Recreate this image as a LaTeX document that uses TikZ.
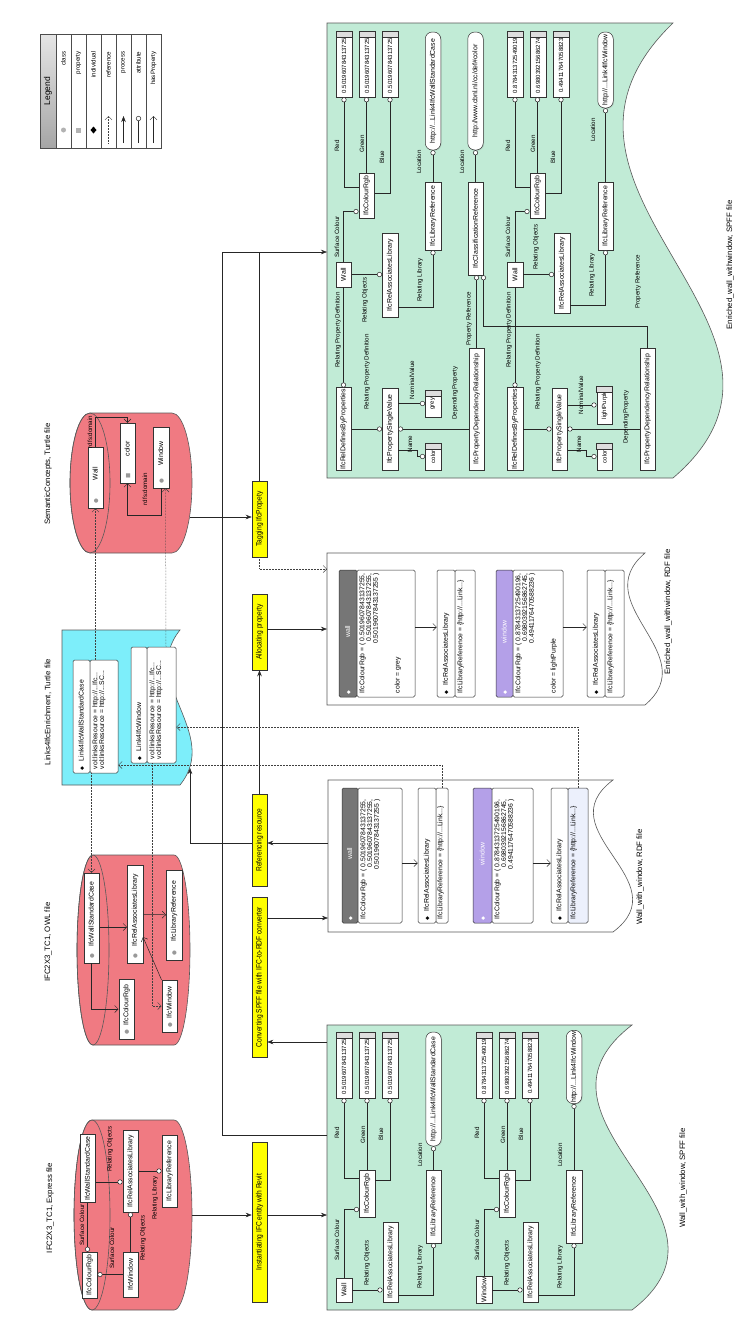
\documentclass[tikz,border=0pt]{standalone}
\usepackage{fontspec}
\setmainfont{Liberation Sans}
\newfontfamily\nfont[FakeStretch=0.85]{Liberation Sans}
\newfontfamily\symfont{DejaVu Sans}
\usetikzlibrary{arrows.meta,shadows,calc}

\definecolor{spffgreen}{RGB}{193,235,214}
\definecolor{cylred}{RGB}{240,122,130}
\definecolor{linkcyan}{RGB}{125,238,250}
\definecolor{hdrgrey}{RGB}{118,118,118}
\definecolor{hdrpurple}{RGB}{180,160,232}
\definecolor{valband}{RGB}{222,222,222}
\definecolor{selblue}{RGB}{236,240,252}
\definecolor{procyellow}{RGB}{255,255,0}

\newcommand{\dmd}{{\symfont\fontsize{5}{5}\selectfont ◆}}
\newcommand{\cls}{{\symfont\fontsize{5.5}{5}\selectfont\textcolor{gray!80}{●}}}
\newcommand{\prp}{{\symfont\fontsize{5.5}{5}\selectfont\textcolor{gray!80}{■}}}

\tikzset{
  lbl/.style={rotate=90, inner sep=0.3pt, font=\fontsize{6.2}{7}\selectfont},
  ttl/.style={rotate=90, inner sep=0pt, font=\fontsize{7.8}{8}\selectfont},
  ent/.style={rotate=90, draw=black!80, fill=white, inner sep=1pt, minimum height=15.5pt,
    drop shadow={opacity=0.25, shadow xshift=0.8pt, shadow yshift=-0.8pt}},
  urlbox/.style={ent, rounded corners=7pt},
  valbox/.style={ent, font=\fontsize{6}{7}\selectfont},
  proc/.style={rotate=90, draw=black!80, fill=procyellow, minimum height=15pt, inner sep=1pt,
    font=\nfont\fontsize{7.8}{8}\selectfont},
  hdr/.style={rotate=90, draw=black!80, inner sep=2pt, align=left, rounded corners=1.5pt},
  bdy/.style={rotate=90, draw=black!80, fill=white, inner sep=0pt, rounded corners=1.5pt},
  btxt/.style={rotate=90, anchor=north west, inner xsep=4pt, inner ysep=2.5pt,
    font=\fontsize{6.8}{6.3}\selectfont},
  flow/.style={draw=black!85, -{Stealth[length=6pt,width=4.5pt]}},
  refl/.style={draw=black!75, densely dotted, -{Straight Barb[length=3.5pt,width=7pt]}},
  hasp/.style={draw=black!85, -{Straight Barb[length=3.5pt,width=7pt]}},
  attr/.style={draw=black!85, -{Circle[fill=white,length=5pt]}},
  docl/.style={draw=black!65, line width=0.6pt},
}

\begin{document}
\begin{tikzpicture}[x=1pt, y=-1pt, font=\fontsize{6.9}{7.5}\selectfont, line width=0.5pt]
\useasboundingbox (0,0) rectangle (755,1326);

% legend
\draw[black!70, fill=white] (40,34) rectangle (161,148);
\shade[top color=gray!20, bottom color=gray!70, draw=black!70] (40,34) rectangle (56,148);
\node[ttl, font=\fontsize{8.5}{9}\selectfont] (lgd) at (48,91) {Legend};
\foreach \k in {0,...,5}
  \draw[black!70] ({71+15*\k},34) -- ({71+15*\k},148);
\foreach \k/\t in {0/class,1/property,2/individual,3/reference,4/process,5/attribute,6/hasProperty}
  \node[lbl, anchor=east] (lg\k) at ({63.5+15*\k},51) {\t};
\fill[gray!60] (63.5,130) circle[radius=2.5pt];
\fill[gray!60] (76,127.5) rectangle (81,132.5);
\fill[black] (93.5,126.5) -- (96.5,130) -- (93.5,133.5) -- (90.5,130) -- cycle;
\draw[refl] (108.5,143) -- (108.5,116);
\draw[flow] (123.5,143) -- (123.5,116);
\draw[attr] (138.5,143) -- (138.5,116);
\draw[hasp] (153.5,143) -- (153.5,116);

% file shapes
\draw[docl, fill=spffgreen] (327,23) -- (673,23) .. controls (500,190) and (846,330) .. (673,478) -- (327,478) -- cycle;
\draw[docl, fill=spffgreen] (327,1025) -- (632,1025) .. controls (507,1121) and (757,1214) .. (632,1310) -- (327,1310) -- cycle;
\draw[docl, fill=white] (327,553) -- (645,553) .. controls (585,604) and (705,654) .. (645,705) -- (327,705) -- cycle;
\draw[docl, fill=white] (328,780) -- (613,780) .. controls (545,831) and (681,881) .. (613,932) -- (328,932) -- cycle;
\draw[docl, fill=linkcyan] (62,630) -- (180,630) .. controls (138,682) and (222,733) .. (180,785) -- (62,785) -- cycle;

% cylinders
\draw[docl, fill=cylred] (90,413) -- (172,413) arc[start angle=-90, end angle=90, x radius=20, y radius=70]
  -- (90,553) arc[start angle=90, end angle=270, x radius=20, y radius=70] -- cycle;
\draw[docl] (90,483) ellipse[x radius=20, y radius=70];
\draw[docl, fill=cylred] (93,855) -- (174,855) arc[start angle=-90, end angle=90, x radius=16, y radius=95]
  -- (93,1045) arc[start angle=90, end angle=270, x radius=16, y radius=95] -- cycle;
\draw[docl] (93,950) ellipse[x radius=16, y radius=95];
\draw[docl, fill=cylred] (92,1120) -- (174,1120) arc[start angle=-90, end angle=90, x radius=18, y radius=95]
  -- (92,1310) arc[start angle=90, end angle=270, x radius=18, y radius=95] -- cycle;
\draw[docl] (92,1215) ellipse[x radius=18, y radius=95];

% titles
\node[ttl] (tx) at (50,1208) {IFC2X3\_TC1, Express file};
\node[ttl] (to) at (48,942) {IFC2X3\_TC1, OWL file};
\node[ttl] (tl) at (48,712) {Links4IfcEnrichment, Turtle file};
\node[ttl] (ts) at (48,474) {SemanticConcepts, Turtle file};
\node[ttl] (tspff) at (683,1178) {Wall\_with\_window, SPFF file};
\node[ttl] (trdf) at (640,877) {Wall\_with\_window, RDF file};
\node[ttl] (terdf) at (668,612) {Enriched\_wall\_withwindow, RDF file};
\node[ttl] (tespff) at (730,265) {Enriched\_wall\_withwindow, SPFF file};

% process steps
\node[proc, minimum width=76pt] (tag) at (259.5,519) {Tagging IfcPropety};
\node[proc, minimum width=76pt] (alloc) at (259.5,632) {Allocating property};
\node[proc, minimum width=92pt] (refr) at (259.5,840) {Referencing resource};
\node[proc, minimum width=160pt] (conv) at (259.5,977) {Converting SPFF file with IFC-to-RDF converter};
\node[proc, minimum width=160pt] (inst) at (259.5,1222) {Instantiating IFC entity with Revit};

% semantic concepts
\node[ent, minimum width=61pt, text width=57pt] (sWall) at (95.5,477.5) {\hspace{3pt}\cls\hfill Wall\hfill\null};
\node[ent, minimum width=60pt, text width=56pt] (sColor) at (127.5,453) {\hspace{3pt}\prp\hfill color\hfill\null};
\node[ent, minimum width=61pt, text width=57pt] (sWin) at (161,457.5) {\hspace{3pt}\cls\hfill Window\hfill\null};
\draw[hasp] (sWin.west) -- ++(0,27) -| (sColor.west);
\draw[hasp] (sWall.east) -- ++(0,-30) -| (sColor.east);
\node[lbl] (sdom1) at (145,489) {rdfs:domain};
\node[lbl] (sdom2) at (90,432) {rdfs:domain};

% owl file
\node[ent, minimum width=90pt, text width=86pt] (oWSC) at (91.5,918) {\hspace{3pt}\cls\hfill IfcWallStandardCase\hfill\null};
\node[ent, minimum width=98pt, text width=94pt] (oRAL) at (135,914) {\hspace{3pt}\cls\hfill IfcRelAssociatesLibrary\hfill\null};
\node[ent, minimum width=90pt, text width=86pt] (oLRef) at (174,915) {\hspace{3pt}\cls\hfill IfcLibraryReference\hfill\null};
\node[ent, minimum width=60pt, text width=56pt] (oRgb) at (126.5,1009) {\hspace{3pt}\cls\hfill IfcColourRgb\hfill\null};
\node[ent, minimum width=52pt, text width=48pt] (oWin) at (169.5,1006) {\hspace{3pt}\cls\hfill IfcWindow\hfill\null};
\draw[hasp] ($(oWSC.south)+(0,9)$) -- ($(oRAL.north)+(0,13)$);
\draw[hasp] (oRAL) -- (oLRef);
\draw[hasp] (oWin.north east) -- ($(oRAL.south)+(0,23)$);
\draw[hasp] (oWSC) |- (oRgb);

% express file
\node[ent, minimum width=46pt] (xRgb) at (89.5,1275) {IfcColourRgb};
\node[ent, minimum width=68pt] (xWSC) at (87.5,1168.5) {IfcWallStandardCase};
\node[ent, minimum width=82pt] (xRAL) at (130.5,1171) {IfcRelAssociatesLibrary};
\node[ent, minimum width=45pt] (xWin) at (130.5,1274.5) {IfcWindow};
\node[ent, minimum width=72pt] (xLRef) at (169.5,1171) {IfcLibraryReference};
\draw[attr] (xWSC) -- (xWSC |- xRgb.east);
\draw[attr] (xWin) -- (xWin -| xRgb.south);
\draw[attr] ($(xWSC.south)+(0,13.5)$) -- ($(xRAL.north)+(0,11)$);
\draw[attr] (xWin) -- (xWin |- xRAL.west);
\draw[attr] (xRAL) -- (xRAL -| xLRef.north);
\node[lbl] (xl1) at (82,1225) {Surface Colour};
\node[lbl] (xl2) at (112,1248) {Surface Colour};
\node[lbl] (xl3) at (110,1149) {Relating Objects};
\node[lbl] (xl4) at (143,1238) {Relating Objects};
\node[lbl] (xl5) at (155,1198) {Relating Library};

% links4ifc enrichment
\node[hdr, fill=white, minimum width=113pt, minimum height=17pt, text width=107pt] (lwh) at (81.5,716.5) {\dmd\hspace{5pt}Link4IfcWallStandardCase};
\node[bdy, minimum width=113pt, minimum height=28pt] (lwb) at (104,716.5) {};
\node[btxt] (lwt) at (lwb.north west) {\begin{tabular}{@{}l@{}}vol:linksResource = http://...Ifc...\\vol:linksResource = http://...SC...\end{tabular}};
\node[hdr, fill=white, minimum width=116pt, minimum height=16pt, text width=110pt] (lwinh) at (139,705) {\dmd\hspace{5pt}Link4IfcWindow};
\node[bdy, minimum width=116pt, minimum height=29pt] (lwinb) at (161.5,705) {};
\node[btxt] (lwint) at (lwinb.north west) {\begin{tabular}{@{}l@{}}vol:linksResource = http://...Ifc...\\vol:linksResource = http://...SC...\end{tabular}};

% enriched rdf
\node[hdr, fill=hdrgrey, text=white, minimum width=127pt, minimum height=18pt, text width=121pt] (ewh) at (348,633.5) {\dmd\hfill wall\hfill\null};
\node[bdy, minimum width=127pt, minimum height=58pt] (ewb) at (386,633.5) {};
\node[btxt] (ewt) at (ewb.north west) {\begin{tabular}{@{}l@{}}IfcColourRgb = ( 0.5019607843137255,\\ \hfill 0.5019607843137255,\\ \hfill 0.5019607843137255 )\\[15pt] color = grey\end{tabular}};
\node[hdr, fill=white, minimum width=127pt, minimum height=18pt, text width=121pt] (er1h) at (446,633.5) {\dmd\hspace{5pt}IfcRelAssociatesLibrary};
\node[bdy, minimum width=127pt, minimum height=20pt] (er1b) at (465,633.5) {};
\node[btxt] (er1t) at (er1b.north west) {IfcLibraryReference = \{http://...Link...\}};
\node[hdr, fill=hdrpurple, text=white, minimum width=127pt, minimum height=17pt, text width=121pt] (ewinh) at (504.5,633.5) {\dmd\hfill window\hfill\null};
\node[bdy, minimum width=127pt, minimum height=50pt] (ewinb) at (538,633.5) {};
\node[btxt] (ewint) at (ewinb.north west) {\begin{tabular}{@{}l@{}}IfcColourRgb = ( 0.8784313725490196,\\ \hfill 0.6980392156862745,\\ \hfill 0.4941176470588236 )\\[15pt] color = lightPurple\end{tabular}};
\node[hdr, fill=white, minimum width=127pt, minimum height=18pt, text width=121pt] (er2h) at (596,633.5) {\dmd\hspace{5pt}IfcRelAssociatesLibrary};
\node[bdy, minimum width=127pt, minimum height=19pt] (er2b) at (614.5,633.5) {};
\node[btxt] (er2t) at (er2b.north west) {IfcLibraryReference = \{http://...Link...\}};
\draw[hasp] ($(ewb.south)+(0,-6.5)$) -- ($(er1h.north)+(0,-6.5)$);
\draw[hasp] ($(ewinb.south)+(0,-6.5)$) -- ($(er2h.north)+(0,-6.5)$);

% rdf
\node[hdr, fill=hdrgrey, text=white, minimum width=135pt, minimum height=16pt, text width=129pt] (rwh) at (350,855.5) {\dmd\hfill wall\hfill\null};
\node[bdy, minimum width=135pt, minimum height=44pt] (rwb) at (380,855.5) {};
\node[btxt] (rwt) at (rwb.north west) {\begin{tabular}{@{}l@{}}IfcColourRgb = ( 0.5019607843137255,\\ \hfill 0.5019607843137255,\\ \hfill 0.5019607843137255 )\end{tabular}};
\node[hdr, fill=white, minimum width=135pt, minimum height=18pt, text width=129pt] (rr1h) at (427,855.5) {\dmd\hspace{5pt}IfcRelAssociatesLibrary};
\node[bdy, minimum width=135pt, minimum height=12pt] (rr1b) at (442,855.5) {};
\node[btxt, inner ysep=1.5pt] (rr1t) at (rr1b.north west) {IfcLibraryReference = \{http://...Link...\}};
\node[hdr, fill=hdrpurple, text=white, minimum width=135pt, minimum height=19pt, text width=129pt] (rwinh) at (482.5,855.5) {\dmd\hfill window\hfill\null};
\node[bdy, minimum width=135pt, minimum height=41pt] (rwinb) at (512.5,855.5) {};
\node[btxt] (rwint) at (rwinb.north west) {\begin{tabular}{@{}l@{}}IfcColourRgb = ( 0.8784313725490196,\\ \hfill 0.6980392156862745,\\ \hfill 0.4941176470588236 )\end{tabular}};
\node[hdr, fill=white, minimum width=135pt, minimum height=17pt, text width=129pt] (rr2h) at (559.5,855.5) {\dmd\hspace{5pt}IfcRelAssociatesLibrary};
\node[bdy, fill=selblue, minimum width=135pt, minimum height=20pt] (rr2b) at (578,855.5) {};
\node[btxt] (rr2t) at (rr2b.north west) {IfcLibraryReference = \{http://...Link...\}};
\draw[hasp] ($(rwb.south)+(0,7.5)$) -- ($(rr1h.north)+(0,7.5)$);
\draw[hasp] ($(rwinb.south)+(0,7.5)$) -- ($(rr2h.north)+(0,7.5)$);

% wall_with_window spff
\foreach \n/\cx/\v in {s1v1/344/0.5019607843137255,s1v2/367/0.5019607843137255,s1v3/390/0.5019607843137255,s2v1/484/0.8784313725490196,s2v2/507/0.6980392156862745,s2v3/530/0.4941176470588236}
  \node[valbox, minimum width=66pt] (\n) at (\cx,1065) {\v\hspace{4pt}};
\node[urlbox, minimum width=114pt] (s1url) at (433.5,1089) {http://...Link4IfcWallStandardCase};
\node[urlbox, minimum width=70pt] (s2url) at (574,1067) {http://...Link4IfcWindow};
\node[ent, minimum width=47pt] (s1rgb) at (367,1193.5) {IfcColourRgb};
\node[ent, minimum width=80pt] (s1ral) at (390.5,1262) {IfcRelAssociatesLibrary};
\node[ent, minimum width=73pt] (s1lref) at (433.5,1206.5) {IfcLibraryReference};
\node[ent, minimum width=24pt] (s1wall) at (344,1290) {Wall};
\node[ent, minimum width=47pt] (s2rgb) at (507,1193.5) {IfcColourRgb};
\node[ent, minimum width=80pt] (s2ral) at (530.5,1262) {IfcRelAssociatesLibrary};
\node[ent, minimum width=73pt] (s2lref) at (574,1206.5) {IfcLibraryReference};
\node[ent, minimum width=26pt] (s2win) at (484,1290) {Window};
\foreach \g/\o in {s1/wall,s2/win}
{
  \draw[attr] (\g\o) |- ($(\g rgb.north)+(0,16)$);
  \draw[attr] (\g\o) -- (\g\o -| \g ral.north);
  \draw[attr] ($(\g ral.south)+(0,33)$) -| (\g lref.west);
  \draw[attr] ($(\g rgb.north)+(0,-15)$) -| (\g v1.west);
  \draw[attr] (\g rgb) -- (\g v2);
  \draw[attr] ($(\g rgb.south)+(0,-13)$) -| (\g v3.west);
  \draw[attr] (\g lref) -- (\g lref |- \g url.west);
}
\foreach \g/\dx in {s1/0,s2/140}
{
  \node[lbl] (\g lr) at ({337+\dx},1133) {Red};
  \node[lbl] (\g lg) at ({363+\dx},1135) {Green};
  \node[lbl] (\g lb) at ({381+\dx},1134) {Blue};
  \node[lbl] (\g ll) at ({420+\dx},1155) {Location};
  \node[lbl] (\g ls) at ({337+\dx},1240) {Surface Colour};
  \node[lbl] (\g lo) at ({367+\dx},1263) {Relating Objects};
  \node[lbl] (\g lrl) at ({420+\dx},1267) {Relating Library};
}

% enriched spff
\foreach \n/\cx/\v in {e1v1/344/0.5019607843137255,e1v2/367/0.5019607843137255,e1v3/390/0.5019607843137255,e2v1/515/0.8784313725490196,e2v2/538/0.6980392156862745,e2v3/561/0.4941176470588236}
  \node[valbox, minimum width=66pt] (\n) at (\cx,64) {\v\hspace{4pt}};
\node[urlbox, minimum width=118pt] (e1url) at (433,91) {http://...Link4IfcWallStandardCase};
\node[urlbox, minimum width=118pt] (e1url2) at (475.5,91) {http://www.cbnl.nl/cc/def\#color};
\node[urlbox, minimum width=76pt] (e2url) at (605.5,70) {http://...Link4IfcWindow};
\node[ent, minimum width=45pt] (e1rgb) at (366.5,195.5) {IfcColourRgb};
\node[ent, minimum width=68pt] (e1lref) at (433,216) {IfcLibraryReference};
\node[ent, minimum width=93pt] (e1cref) at (475.5,228.5) {IfcClassificationReference};
\node[ent, minimum width=84pt] (e1ral) at (390,275) {IfcRelAssociatesLibrary};
\node[ent, minimum width=25pt] (e1wall) at (343.5,274.5) {Wall};
\node[ent, minimum width=82pt] (e1rdbp) at (343.5,429) {IfcRelDefinesByProperties};
\node[ent, minimum width=82pt] (e1psv) at (390,429) {IfcPropertySingleValue};
\node[valbox, minimum width=27pt] (e1grey) at (433,403.5) {grey\hspace{3pt}};
\node[valbox, minimum width=27pt] (e1color) at (433,456.5) {color\hspace{3pt}};
\node[ent, minimum width=122pt] (e1pdr) at (476.5,409) {IfcPropertyDependencyRelationship};
\node[ent, minimum width=45pt] (e2rgb) at (537.5,195.5) {IfcColourRgb};
\node[ent, minimum width=68pt] (e2lref) at (605.5,216) {IfcLibraryReference};
\node[ent, minimum width=80pt] (e2ral) at (562,273) {IfcRelAssociatesLibrary};
\node[ent, minimum width=25pt] (e2wall) at (515,274.5) {Wall};
\node[ent, minimum width=82pt] (e2rdbp) at (515,429) {IfcRelDefinesByProperties};
\node[ent, minimum width=82pt] (e2psv) at (559.5,429) {IfcPropertySingleValue};
\node[valbox, minimum width=38pt] (e2lp) at (604.5,405) {lightPurple\hspace{3pt}};
\node[valbox, minimum width=27pt] (e2color) at (604.5,456.5) {color\hspace{3pt}};
\node[ent, minimum width=122pt] (e2pdr) at (647.5,409) {IfcPropertyDependencyRelationship};
\foreach \n in {s1v1,s1v2,s1v3,s2v1,s2v2,s2v3,e1v1,e1v2,e1v3,e2v1,e2v2,e2v3,e1grey,e1color,e2lp,e2color}
  \draw[black!80, fill=valband] (\n.north east) rectangle ($(\n.south east)+(0,6)$);
\foreach \g in {e1,e2}
{
  \draw[attr] ($(\g rgb.north)+(0,-8.5)$) -| (\g v1.west);
  \draw[attr] (\g rgb) -- (\g rgb |- \g v2.west);
  \draw[attr] ($(\g rgb.south)+(0,-2.5)$) -| (\g v3.west);
  \draw[attr] (\g lref) -- (\g url);
  \draw[attr] (\g wall) |- ($(\g rgb.north)+(0,16)$);
  \draw[attr] (\g wall) -- (\g wall -| \g ral.north);
  \draw[attr] ($(\g ral.south)+(0,32)$) -| (\g lref.west);
  \draw[attr] (\g wall) -- (\g rdbp);
  \draw[attr] (\g rdbp) -- (\g rdbp -| \g psv.north);
  \draw[attr] ($(\g psv.south)+(0,21)$) -- ++(19,0) |- (\g color.north);
  \draw[attr] (\g pdr.north |- \g psv) -- (\g psv.south);
}
\draw[attr] (e1grey -| e1psv.south) -- (e1grey.north);
\draw[attr] (e2lp -| e2psv.south) -- (e2lp.north);
\draw[attr] (e1cref) -- (e1cref |- e1url2.west);
\draw[attr] (e1pdr.east) -- (e1pdr.east |- e1cref.west);
\coordinate (prc) at (647.5,326);
\draw[{Circle[fill=white,length=5pt]}-, draw=black!85] ($(e1cref.west)+(8,0)$) |- (prc) -- (e2pdr.east);
\foreach \g/\dx in {e1/0,e2/171}
{
  \node[lbl] (\g lr) at ({337+\dx},146) {Red};
  \node[lbl] (\g lg) at ({362+\dx},144) {Green};
  \node[lbl] (\g lb) at ({382+\dx},157) {Blue};
  \node[lbl] (\g ls) at ({337+\dx},237) {Surface Colour};
  \node[lbl] (\g lp) at ({338+\dx},330) {Relating Property Definition};
  \node[lbl] (\g lq) at ({367+\dx},372) {Relating Property Definition};
}
\node[lbl] (e1ll) at (419,162) {Location};
\node[lbl] (e1ll2) at (462,162) {Location};
\node[lbl] (e2ll) at (593,130) {Location};
\node[lbl] (e1lo) at (365,300) {Relating Objects};
\node[lbl] (e2lo) at (536,247) {Relating Objects};
\node[lbl] (e1lrl) at (420,280) {Relating Library};
\node[lbl] (e2lrl) at (592,275) {Relating Library};
\node[lbl] (e1ln) at (412,380) {NominalValue};
\node[lbl] (e2ln) at (581,395) {NominalValue};
\node[lbl] (e1lna) at (410,444) {Name};
\node[lbl] (e2lna) at (579,444) {Name};
\node[lbl] (e1ld) at (455,393) {DependingProperty};
\node[lbl] (e2ld) at (626,417) {DependingProperty};
\node[lbl] (e1lpr) at (469,319) {Property Reference};
\node[lbl] (e2lpr) at (638,282) {Property Reference};

% process flow
\coordinate (xout) at (192,1215);
\coordinate (spffin) at (327,1215);
\coordinate (spffc) at (327,1042);
\coordinate (rdfin) at (328,918);
\coordinate (rdfout) at (328,843);
\coordinate (cyin) at (190,768);
\coordinate (erdfin) at (327,629);
\coordinate (semout) at (190,517);
\coordinate (espffin) at (327,252);
\coordinate (spffout) at (327,1135);
\coordinate (jn) at (222,252);
\coordinate (erdfref) at (327,569);
\draw[flow] (xout) -- (xout -| inst.north);
\draw[flow] (inst.south |- spffin) -- (spffin);
\draw[flow] (spffc) -- (spffc -| conv.south);
\draw[flow] (rdfin -| conv.south) -- (rdfin);
\draw[flow] (rdfout) -- (rdfout -| refr.south);
\draw[flow] (rdfout -| refr.north) -| (cyin);
\draw[flow] (refr) -- (alloc);
\draw[flow] (erdfin -| alloc.south) -- (erdfin);
\draw[flow] (semout) -- (semout -| tag.north);
\draw[flow] (tag) |- (espffin);
\draw[draw=black!85] (spffout) -| (jn) -- (tag.center |- jn);
\draw[refl] (tag) |- (erdfref);

% references
\draw[refl] (lwb.east -| sWall.west) -- (sWall.west);
\draw[refl] (lwb.west -| oWSC.east) -- (oWSC.east);
\draw[refl] ($(lwinb.east)+(4.5,0)$) -- ($(sWin.west)+(4.5,0)$);
\draw[refl] ($(lwinb.west)+(-9,0)$) |- (oWin.north);
\draw[refl] (rr1b.east) |- ($(lwb.south)+(0,48.5)$);
\draw[refl] (rr2b.east) |- ($(lwinb.south)+(0,22)$);
\end{tikzpicture}
\end{document}
